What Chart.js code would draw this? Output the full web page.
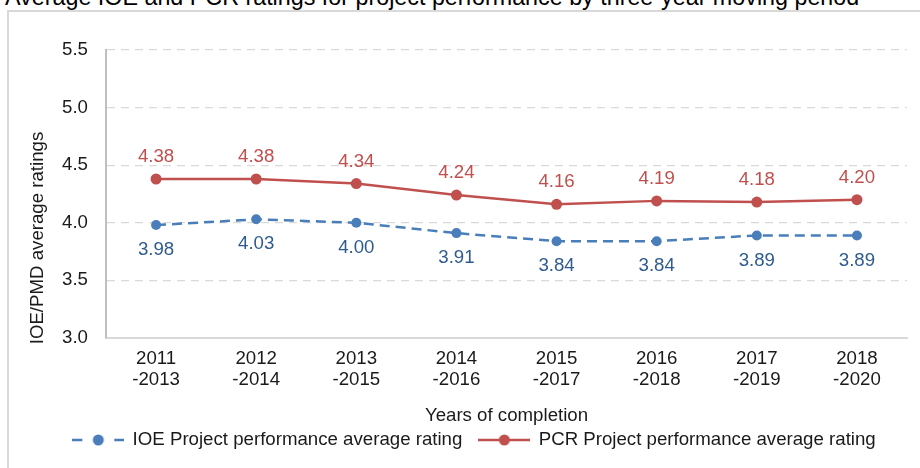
<!DOCTYPE html><html lang="en">
<head>
<meta charset="utf-8"/>
<title>Average IOE and PCR ratings for project performance</title>
<script src="https://cdn.jsdelivr.net/npm/chart.js"></script>
<style>
  body{margin:0;background:#fff;font-family:"Liberation Sans",Arial,sans-serif}
  #wrap{position:relative;width:920px;height:468px;overflow:hidden}
  #title{position:absolute;left:5px;top:-14.5px;font-size:23.3px;line-height:1;color:#000;white-space:nowrap}
  #frame{position:absolute;left:7px;top:10px;width:940px;height:480px;border:2px solid #d9d9d9;box-sizing:border-box}
  canvas{position:absolute;left:0;top:0}
</style>
</head>
<body>
<div id="wrap">
  <div id="title">Average IOE and PCR ratings for project performance by three-year moving period</div>
  <div id="frame"></div>
  <canvas id="chart" width="920" height="468"></canvas>
</div>
<script>
// -------- data --------
const periods = [['2011','-2013'],['2012','-2014'],['2013','-2015'],['2014','-2016'],
                 ['2015','-2017'],['2016','-2018'],['2017','-2019'],['2018','-2020']];
const ioeRatings = [3.98, 4.03, 4.00, 3.91, 3.84, 3.84, 3.89, 3.89];
const pcrRatings = [4.38, 4.38, 4.34, 4.24, 4.16, 4.19, 4.18, 4.20];
const yMin = 3.0, yMax = 5.5, yStep = 0.5;
const yTitle = 'IOE/PMD average ratings';
const xTitle = 'Years of completion';

// -------- styles --------
const RED = '#C0504D', BLUE = '#4A7EBB', BLUE_TXT = '#2F5B8F', INK = '#1a1a1a';
const FS = 18.67;
Chart.defaults.font.family = '"Liberation Sans", Arial, sans-serif';
Chart.defaults.font.size = FS;
Chart.defaults.color = INK;

// little line+marker pictures for the legend
function legendMark(color, dashed){
  const c = document.createElement('canvas');
  c.width = 52; c.height = 14;
  const g = c.getContext('2d');
  g.strokeStyle = color; g.fillStyle = color; g.lineWidth = 2.5;
  g.beginPath();
  if(dashed){ g.moveTo(0,7); g.lineTo(10,7); g.moveTo(42,7); g.lineTo(52,7); }
  else { g.moveTo(0,7); g.lineTo(52,7); }
  g.stroke();
  g.beginPath(); g.arc(26,7,5.5,0,Math.PI*2); g.fill();
  return c;
}
const marks = [legendMark(BLUE, true), legendMark(RED, false)];

// value labels above (PCR) / below (IOE) the points
const valueLabels = {
  id: 'valueLabels',
  afterDatasetsDraw(chart){
    const ctx = chart.ctx;
    ctx.save();
    ctx.font = FS + 'px "Liberation Sans", Arial, sans-serif';
    ctx.textAlign = 'center';
    ctx.textBaseline = 'middle';
    chart.data.datasets.forEach((ds, i) => {
      const meta = chart.getDatasetMeta(i);
      ctx.fillStyle = ds.labelColor;
      meta.data.forEach((pt, j) => {
        ctx.fillText(ds.data[j].toFixed(2), pt.x, pt.y + ds.labelOffset);
      });
    });
    ctx.restore();
  }
};

// y axis title, centred on the whole frame like the original
const sideTitle = {
  id: 'sideTitle',
  afterDraw(chart){
    const ctx = chart.ctx;
    ctx.save();
    ctx.translate(38, 238);
    ctx.rotate(-Math.PI / 2);
    ctx.font = FS + 'px "Liberation Sans", Arial, sans-serif';
    ctx.fillStyle = INK;
    ctx.textAlign = 'center';
    ctx.textBaseline = 'middle';
    ctx.fillText(yTitle, 0, 0);
    ctx.restore();
  }
};

new Chart(document.getElementById('chart'), {
  type: 'line',
  data: {
    labels: periods,
    datasets: [
      {label: 'IOE Project performance average rating', data: ioeRatings,
       borderColor: BLUE, backgroundColor: BLUE, borderWidth: 2.5, borderDash: [10,6],
       pointRadius: 5, pointHoverRadius: 5, pointBackgroundColor: BLUE, pointBorderWidth: 0,
       labelColor: BLUE_TXT, labelOffset: 25},
      {label: 'PCR Project performance average rating', data: pcrRatings,
       borderColor: RED, backgroundColor: RED, borderWidth: 2.5,
       pointRadius: 5.5, pointHoverRadius: 5.5, pointBackgroundColor: RED, pointBorderWidth: 0,
       labelColor: RED, labelOffset: -22}
    ]
  },
  options: {
    responsive: false,
    animation: false,
    layout: {padding: {top: 50, right: 13, bottom: 8.7, left: 42}},
    plugins: {
      tooltip: {enabled: false},
      legend: {
        position: 'bottom',
        labels: {
          usePointStyle: true, pointStyleWidth: 50, padding: 17, color: INK,
          font: {size: FS},
          generateLabels(chart){
            const items = Chart.defaults.plugins.legend.labels.generateLabels(chart);
            items.forEach((it, i) => { it.pointStyle = marks[i]; });
            return items;
          }
        }
      }
    },
    scales: {
      x: {
        offset: true,
        grid: {display: false, drawTicks: false},
        border: {color: '#d9d9d9', width: 2},
        ticks: {padding: 11, color: INK, font: {size: FS, lineHeight: 1.1}, maxRotation: 0, autoSkip: false},
        title: {display: true, text: xTitle, color: INK, font: {size: FS}, padding: {top: 0, bottom: -13.5}},
        afterFit(s){ s.height = 75.7; }
      },
      y: {
        min: yMin, max: yMax,
        grid: {color: '#d9d9d9', lineWidth: 1.3, drawTicks: false},
        border: {color: '#bfbfbf', width: 2, dash: [8,6]},
        ticks: {stepSize: yStep, padding: 18, color: INK, font: {size: FS},
                callback: v => Number(v).toFixed(1)},
        afterFit(s){ s.width = 64; }
      }
    }
  },
  plugins: [valueLabels, sideTitle]
});
</script>
</body>
</html>
